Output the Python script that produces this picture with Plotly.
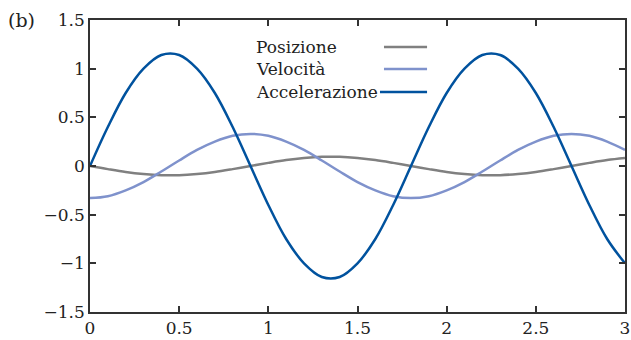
import plotly.graph_objects as go

t = [round(0.1 * i, 1) for i in range(31)]

posizione = [0.0, -0.032, -0.061, -0.082, -0.094, -0.094, -0.082, -0.061, -0.032, 0.0,
             0.032, 0.061, 0.082, 0.094, 0.094, 0.082, 0.061, 0.032, 0.0,
             -0.032, -0.061, -0.082, -0.094, -0.094, -0.082, -0.061, -0.032, 0.0,
             0.032, 0.061, 0.082]

velocita = [-0.33, -0.31, -0.25, -0.165, -0.057, 0.057, 0.165, 0.25, 0.31, 0.33,
            0.31, 0.25, 0.165, 0.057, -0.057, -0.165, -0.25, -0.31, -0.33,
            -0.31, -0.25, -0.165, -0.057, 0.057, 0.165, 0.25, 0.31, 0.33,
            0.31, 0.25, 0.165]

accelerazione = [0.0, 0.40, 0.75, 1.00, 1.14, 1.14, 1.00, 0.75, 0.40, 0.0,
                 -0.40, -0.75, -1.00, -1.14, -1.14, -1.00, -0.75, -0.40, 0.0,
                 0.40, 0.75, 1.00, 1.14, 1.14, 1.00, 0.75, 0.40, 0.0,
                 -0.40, -0.75, -1.00]

names = ["Posizione", "Velocità", "Accelerazione"]
colors = ["#808080", "#7f92cc", "#00529e"]
series = [posizione, velocita, accelerazione]

x_ticks = [0, 0.5, 1, 1.5, 2, 2.5, 3]
x_ticktext = ["0", "0.5", "1", "1.5", "2", "2.5", "3"]
y_ticks = [-1.5, -1, -0.5, 0, 0.5, 1, 1.5]
y_ticktext = ["\u22121.5", "\u22121", "\u22120.5", "0", "0.5", "1", "1.5"]

FONT = "DejaVu Serif"
fig = go.Figure()
for n, c, s in zip(names, colors, series):
    fig.add_trace(go.Scatter(x=t, y=s, mode="lines", name=n,
                             line=dict(color=c, width=2.5, shape="spline", smoothing=1.0),
                             showlegend=False))

axis_common = dict(showgrid=False, zeroline=False, showline=True, linecolor="#333333",
                   linewidth=1.5, mirror="ticks", ticks="inside", ticklen=6,
                   tickcolor="#333333", tickwidth=1.5, automargin=False,
                   tickfont=dict(family=FONT, size=17, color="#222222"))

fig.update_xaxes(range=[0, 3], tickvals=x_ticks, ticktext=x_ticktext, **axis_common)
fig.update_yaxes(range=[-1.5, 1.5], tickvals=y_ticks, ticktext=y_ticktext, **axis_common)

# custom legend: text left, line sample right
leg_y = [0.9075, 0.832, 0.753]
for n, c, yy in zip(names, colors, leg_y):
    fig.add_annotation(x=0.3065, y=yy, xref="paper", yref="paper", text=n,
                       showarrow=False, xanchor="left", yanchor="middle",
                       font=dict(family=FONT, size=17, color="#222222"))
    x0 = 0.5495 if n != "Accelerazione" else 0.542
    fig.add_shape(type="line", xref="paper", yref="paper", x0=x0, x1=0.63, y0=yy, y1=yy,
                  line=dict(color=c, width=2.5))

fig.add_annotation(x=-0.157, y=1.0, xref="paper", yref="paper", text="(b)",
                   showarrow=False, xanchor="left", yanchor="middle",
                   font=dict(family=FONT, size=19, color="#222222"))

fig.update_layout(width=631, height=340, margin=dict(l=90, r=6, t=20, b=28),
                  plot_bgcolor="white", paper_bgcolor="white")

fig.write_html("out.html", config={"displayModeBar": False},
               post_script="document.body.style.margin='0';")
